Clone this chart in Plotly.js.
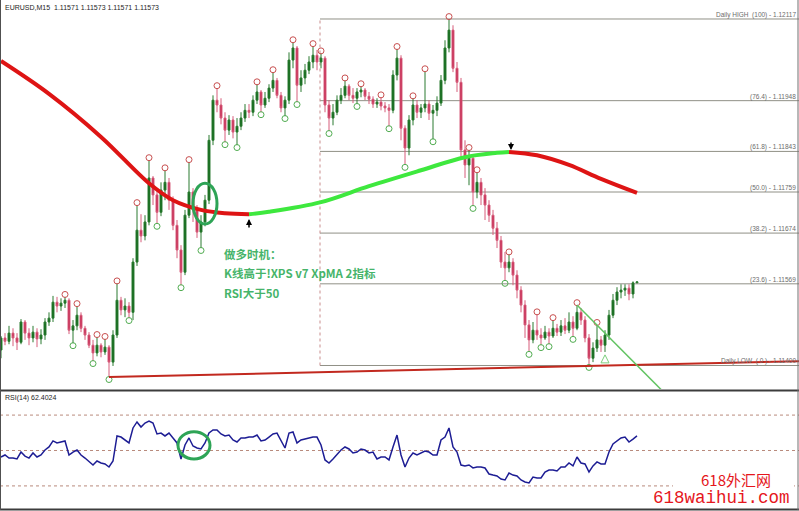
<!DOCTYPE html>
<html><head><meta charset="utf-8">
<script src="https://cdn.plot.ly/plotly-3.0.1.min.js"></script>
<style>html,body{margin:0;padding:0;background:#fff;}#chart{width:799px;height:511px;}</style>
</head><body><div id="chart"></div>
<script>
// ---- data (EURUSD M15) ----
const symbolTitle = 'EURUSD,M15  1.11571 1.11573 1.11571 1.11573';
const rsiTitle = 'RSI(14) 62.4024';
const openP = [1.11432,1.11457,1.11450,1.11467,1.11457,1.11448,1.11490,1.11467,1.11457,1.11469,
1.11455,1.11463,1.11490,1.11498,1.11531,1.11523,1.11529,1.11535,1.11473,1.11482,
1.11504,1.11477,1.11463,1.11442,1.11426,1.11442,1.11428,1.11438,1.11407,1.11463,
1.11535,1.11515,1.11523,1.11510,1.11614,1.11680,1.11668,1.11697,1.11788,1.11753,
1.11717,1.11763,1.11779,1.11742,1.11690,1.11639,1.11593,1.11711,1.11759,1.11722,
1.11676,1.11697,1.11742,1.11866,1.11949,1.11939,1.11912,1.11887,1.11908,1.11883,
1.11895,1.11912,1.11928,1.11924,1.11949,1.11966,1.11939,1.11953,1.11974,1.11990,
1.11959,1.11933,1.11949,1.12032,1.12057,1.11980,1.11995,1.12011,1.12028,1.12042,
1.12028,1.12036,1.11939,1.11912,1.11924,1.11949,1.11959,1.11978,1.11959,1.11953,
1.11966,1.11970,1.11957,1.11951,1.11941,1.11945,1.11937,1.11933,1.11928,1.12001,
1.12036,1.11891,1.11850,1.11908,1.11939,1.11924,1.11933,1.11941,1.11922,1.11928,
1.11943,1.11990,1.12057,1.12094,1.12015,1.11986,1.11846,1.11815,1.11829,1.11759,
1.11779,1.11753,1.11732,1.11711,1.11684,1.11659,1.11614,1.11602,1.11614,1.11587,
1.11556,1.11525,1.11484,1.11453,1.11473,1.11463,1.11457,1.11469,1.11461,1.11477,
1.11469,1.11482,1.11473,1.11490,1.11477,1.11510,1.11494,1.11457,1.11415,1.11436,
1.11453,1.11442,1.11463,1.11504,1.11535,1.11552,1.11556,1.11560,1.11548,1.11571];
const highP = [1.11461,1.11467,1.11482,1.11477,1.11467,1.11496,1.11494,1.11477,1.11482,1.11477,
1.11475,1.11498,1.11510,1.11544,1.11542,1.11539,1.11542,1.11539,1.11494,1.11523,
1.11510,1.11482,1.11469,1.11453,1.11459,1.11446,1.11455,1.11442,1.11473,1.11570,
1.11542,1.11539,1.11531,1.11622,1.11732,1.11713,1.11711,1.11825,1.11792,1.11763,
1.11779,1.11804,1.11788,1.11750,1.11701,1.11649,1.11722,1.11821,1.11767,1.11732,
1.11711,1.11753,1.11877,1.11959,1.11974,1.11953,1.11924,1.11918,1.11916,1.11912,
1.11924,1.11941,1.11941,1.11959,1.11982,1.11970,1.11966,1.11982,1.12007,1.11995,
1.11966,1.11957,1.12048,1.12069,1.12061,1.12011,1.12024,1.12040,1.12061,1.12053,
1.12046,1.12040,1.11949,1.11941,1.11959,1.11974,1.11990,1.11982,1.11974,1.11974,
1.11978,1.11974,1.11966,1.11957,1.11953,1.11955,1.11945,1.11941,1.12011,1.12055,
1.12042,1.11897,1.11918,1.11953,1.11949,1.11941,1.12009,1.11949,1.11939,1.11957,
1.12001,1.12073,1.12117,1.12104,1.12028,1.11995,1.11866,1.11846,1.11835,1.11800,
1.11788,1.11767,1.11742,1.11722,1.11697,1.11668,1.11635,1.11630,1.11622,1.11597,
1.11564,1.11535,1.11494,1.11490,1.11506,1.11477,1.11482,1.11477,1.11494,1.11486,
1.11494,1.11498,1.11510,1.11502,1.11525,1.11519,1.11502,1.11465,1.11448,1.11484,
1.11461,1.11473,1.11515,1.11548,1.11562,1.11568,1.11568,1.11568,1.11574,1.11573];
const lowP = [1.11415,1.11442,1.11444,1.11440,1.11432,1.11444,1.11453,1.11442,1.11448,1.11438,
1.11444,1.11453,1.11482,1.11490,1.11510,1.11513,1.11519,1.11465,1.11446,1.11473,
1.11469,1.11453,1.11436,1.11409,1.11419,1.11417,1.11422,1.11376,1.11399,1.11457,
1.11504,1.11500,1.11498,1.11494,1.11606,1.11655,1.11659,1.11690,1.11732,1.11693,
1.11709,1.11742,1.11722,1.11680,1.11622,1.11566,1.11587,1.11705,1.11697,1.11664,
1.11643,1.11688,1.11734,1.11856,1.11924,1.11899,1.11862,1.11877,1.11870,1.11856,
1.11887,1.11904,1.11912,1.11916,1.11941,1.11924,1.11933,1.11945,1.11966,1.11953,
1.11924,1.11916,1.11941,1.12015,1.11945,1.11966,1.11982,1.12003,1.12015,1.12011,
1.12015,1.11924,1.11885,1.11897,1.11918,1.11941,1.11953,1.11949,1.11943,1.11941,
1.11955,1.11949,1.11941,1.11933,1.11933,1.11928,1.11924,1.11895,1.11922,1.11990,
1.11866,1.11815,1.11835,1.11897,1.11912,1.11912,1.11924,1.11908,1.11868,1.11916,
1.11937,1.11982,1.12048,1.12007,1.11966,1.11829,1.11788,1.11773,1.11730,1.11746,
1.11732,1.11701,1.11697,1.11670,1.11643,1.11602,1.11575,1.11593,1.11566,1.11539,
1.11510,1.11457,1.11428,1.11446,1.11453,1.11442,1.11453,1.11444,1.11457,1.11461,
1.11461,1.11465,1.11467,1.11459,1.11473,1.11484,1.11448,1.11401,1.11407,1.11428,
1.11428,1.11428,1.11453,1.11498,1.11525,1.11539,1.11544,1.11535,1.11539,1.11571];
const closeP = [1.11457,1.11450,1.11467,1.11457,1.11448,1.11490,1.11467,1.11457,1.11469,1.11455,
1.11463,1.11490,1.11498,1.11531,1.11523,1.11529,1.11535,1.11473,1.11482,1.11504,
1.11477,1.11463,1.11442,1.11426,1.11442,1.11428,1.11438,1.11407,1.11463,1.11535,
1.11515,1.11523,1.11510,1.11614,1.11680,1.11668,1.11697,1.11788,1.11753,1.11717,
1.11763,1.11779,1.11742,1.11690,1.11639,1.11593,1.11711,1.11759,1.11722,1.11676,
1.11697,1.11742,1.11866,1.11949,1.11939,1.11912,1.11887,1.11908,1.11883,1.11895,
1.11912,1.11928,1.11924,1.11949,1.11966,1.11939,1.11953,1.11974,1.11990,1.11959,
1.11933,1.11949,1.12032,1.12057,1.11980,1.11995,1.12011,1.12028,1.12042,1.12028,
1.12036,1.11939,1.11912,1.11924,1.11949,1.11959,1.11978,1.11959,1.11953,1.11966,
1.11970,1.11957,1.11951,1.11941,1.11945,1.11937,1.11933,1.11928,1.12001,1.12036,
1.11891,1.11850,1.11908,1.11939,1.11924,1.11933,1.11941,1.11922,1.11928,1.11943,
1.11990,1.12057,1.12094,1.12015,1.11986,1.11846,1.11815,1.11829,1.11759,1.11779,
1.11753,1.11732,1.11711,1.11684,1.11659,1.11614,1.11602,1.11614,1.11587,1.11556,
1.11525,1.11484,1.11453,1.11473,1.11463,1.11457,1.11469,1.11461,1.11477,1.11469,
1.11482,1.11473,1.11490,1.11477,1.11510,1.11494,1.11457,1.11415,1.11436,1.11453,
1.11442,1.11463,1.11504,1.11535,1.11552,1.11556,1.11560,1.11548,1.11571,1.11573];
const rsiVals = [44.5,46.2,43.6,43.6,42.8,48.7,45.3,43.6,47.9,44.5,
46.2,50.4,53.0,58.1,56.4,57.2,58.1,46.2,48.7,50.4,
46.2,43.6,40.3,37.7,41.1,39.4,38.6,36.0,41.1,62.3,
61.4,58.9,56.4,69.1,74.2,69.9,73.3,75.0,73.3,64.0,
64.8,62.3,64.8,60.6,56.4,42.8,54.7,60.6,53.8,52.1,
51.3,56.4,64.8,67.4,67.4,64.0,62.3,63.1,58.9,57.2,
60.6,60.6,61.4,61.4,63.1,58.1,58.9,61.4,64.0,64.8,
58.1,52.1,64.8,65.7,56.4,58.9,59.7,60.6,61.4,61.4,
54.7,42.0,39.4,42.8,47.0,50.4,53.0,51.3,47.9,48.7,
51.3,50.4,47.9,48.7,42.8,44.5,44.5,42.0,53.0,63.1,
46.2,36.0,43.6,47.9,46.2,47.9,49.6,48.7,46.2,46.2,
58.9,61.4,69.1,53.0,48.7,37.7,36.9,37.7,35.2,36.0,
36.0,35.2,30.1,29.2,28.4,25.8,25.0,30.9,29.2,28.4,
25.0,23.3,22.5,27.5,26.7,26.7,31.8,33.5,33.5,32.6,
36.0,36.0,39.4,36.9,44.5,39.4,38.6,31.8,36.9,40.3,
38.6,38.6,48.7,55.5,58.1,60.6,61.4,57.2,59.7,62.4];
const rsiLevels = [80, 50, 20];
// XPMA moving average (bar index, value) and its colour turning points
const maBar = [0,12,25,37,43,50,56,62,67,80,92,105,116,124,127,134,142,150,159];
const maVal = [1.12030,1.11962,1.11873,1.11777,1.11742,1.11722,1.11715,1.11713,1.11718,1.11738,1.11771,1.11804,1.11831,1.11840,1.11842,1.11835,1.11815,1.11786,1.11757];
const maUpTurnBar = 62, maDownTurnBar = 127;
// fractals
const fractalHighBars = [16,19,24,26,29,34,37,41,47,54,64,68,73,78,80,86,90,95,99,103,106,112,117,119,127,134,138,144,149];
const fractalLowBars = [18,23,27,32,39,45,50,56,59,65,71,74,82,89,97,101,108,118,126,132,135,137,143,147];
const upSignalBar = 151;
// daily Fibonacci
const fibLevels = ['Daily HIGH  (100)','(76.4)','(61.8)','(50.0)','(38.2)','(23.6)','Daily LOW  ( 0 )'];
const fibPrices = [1.12117,1.11948,1.11843,1.11759,1.11674,1.11569,1.11400];
const fibStartBar = 79.75;
// trend lines
const supportLine = {bar0: 27, p0: 1.11376, bar1: 199.5, p1: 1.11409};
const downLine = {bar0: 144, p0: 1.11525, bar1: 166.25, p1: 1.11340};
const noteLines = ['<b>做多时机：</b>', '<b>K线高于!XPS v7 XpMA 2指标</b>', '<b>RSI大于50</b>'];

// ---- chart ----
const W = 799, H = 511;
const bars = openP.map((_, i) => i);
const px = v => v / W, py = v => 1 - v / H;
const traces = [];
traces.push({
  type: 'candlestick', x: bars, open: openP, high: highP, low: lowP, close: closeP,
  xaxis: 'x', yaxis: 'y', whiskerwidth: 0, hoverinfo: 'skip',
  increasing: {line: {color: '#2a7a30', width: 1}, fillcolor: '#0f6618'},
  decreasing: {line: {color: '#d65c7a', width: 1}, fillcolor: '#c2224c'}
});
function maSeg(a, b, color) {
  const xs = [], ys = [];
  maBar.forEach((bi, k) => { if (bi >= a && bi <= b) { xs.push(bi); ys.push(maVal[k]); } });
  return {type: 'scatter', mode: 'lines', x: xs, y: ys, xaxis: 'x', yaxis: 'y', hoverinfo: 'skip',
    line: {color: color, width: 4, shape: 'spline', smoothing: 1}};
}
traces.push(maSeg(0, maUpTurnBar, '#de1414'));
traces.push(maSeg(maUpTurnBar, maDownTurnBar, '#3ee83e'));
traces.push(maSeg(maDownTurnBar, 200, '#de1414'));
const off = 0.00005;
traces.push({type: 'scatter', mode: 'markers', x: fractalHighBars, y: fractalHighBars.map(b => highP[b] + off),
  xaxis: 'x', yaxis: 'y', hoverinfo: 'skip',
  marker: {symbol: 'circle-open', size: 6, color: '#c85050', line: {width: 1}}});
traces.push({type: 'scatter', mode: 'markers', x: fractalLowBars, y: fractalLowBars.map(b => lowP[b] - off),
  xaxis: 'x', yaxis: 'y', hoverinfo: 'skip',
  marker: {symbol: 'circle-open', size: 6, color: '#52ad52', line: {width: 1}}});
traces.push({type: 'scatter', mode: 'markers', x: [upSignalBar], y: [lowP[upSignalBar] - 0.00006],
  xaxis: 'x', yaxis: 'y', hoverinfo: 'skip',
  marker: {symbol: 'arrow-up-open', size: 8, color: '#7ccf7c', line: {width: 1}}});
traces.push({type: 'scatter', mode: 'lines', x: bars, y: rsiVals, xaxis: 'x', yaxis: 'y2', hoverinfo: 'skip',
  line: {color: '#1d1d94', width: 1.5}});

const shapes = [];
fibPrices.forEach(p => shapes.push({type: 'line', xref: 'x', yref: 'y', x0: fibStartBar, x1: 199.5, y0: p, y1: p,
  line: {color: '#909086', width: 1}, layer: 'below'}));
shapes.push({type: 'line', xref: 'x', yref: 'y', x0: fibStartBar, x1: fibStartBar, y0: fibPrices[6], y1: fibPrices[0],
  line: {color: '#c98d8d', width: 1, dash: 'dot'}, layer: 'below'});
rsiLevels.forEach(l => shapes.push({type: 'line', xref: 'paper', yref: 'y2', x0: 0, x1: 1, y0: l, y1: l,
  line: {color: '#b98a7c', width: 1, dash: 'dot'}, layer: 'below'}));
shapes.push({type: 'line', xref: 'x', yref: 'y', x0: supportLine.bar0, y0: supportLine.p0, x1: supportLine.bar1, y1: supportLine.p1,
  line: {color: '#c2291f', width: 2}});
shapes.push({type: 'line', xref: 'x', yref: 'y', x0: downLine.bar0, y0: downLine.p0, x1: downLine.bar1, y1: downLine.p1,
  line: {color: '#62c462', width: 1.5}});
shapes.push({type: 'circle', xref: 'x', yref: 'y', x0: 48, x1: 54, y0: 1.11693, y1: 1.11777,
  line: {color: '#2ea456', width: 3}});
shapes.push({type: 'circle', xref: 'x', yref: 'y2', x0: 44.25, x1: 52.25, y0: 42.8, y1: 65.9,
  line: {color: '#2ea456', width: 3}});
// frame
shapes.push({type: 'line', xref: 'paper', yref: 'paper', x0: 0, x1: 1, y0: py(390.5), y1: py(390.5), line: {color: '#3c3c3c', width: 2}});
shapes.push({type: 'line', xref: 'paper', yref: 'paper', x0: 0, x1: 1, y0: py(509.5), y1: py(509.5), line: {color: '#3c3c3c', width: 2}});
shapes.push({type: 'line', xref: 'paper', yref: 'paper', x0: px(0.5), x1: px(0.5), y0: py(510), y1: 1, line: {color: '#505050', width: 1}});
shapes.push({type: 'line', xref: 'paper', yref: 'paper', x0: px(798), x1: px(798), y0: py(510), y1: 1, line: {color: '#707070', width: 1}});
// watermark backing
shapes.push({type: 'rect', xref: 'paper', yref: 'paper', x0: px(673), x1: px(794), y0: py(488), y1: py(471),
  fillcolor: '#ffffff', line: {width: 0}, layer: 'above'});

const annotations = [];
annotations.push({xref: 'paper', yref: 'paper', x: px(3), y: py(7), xanchor: 'left', yanchor: 'middle', showarrow: false,
  text: symbolTitle, font: {family: 'Liberation Sans, Arial, sans-serif', size: 7, color: '#1e1e1e'}});
annotations.push({xref: 'paper', yref: 'paper', x: px(3), y: py(398), xanchor: 'left', yanchor: 'middle', showarrow: false,
  text: rsiTitle, font: {family: 'Liberation Sans, Arial, sans-serif', size: 7, color: '#1e1e1e'}});
fibLevels.forEach((lab, k) => annotations.push({xref: 'paper', yref: 'y', x: px(796.5), y: fibPrices[k],
  xanchor: 'right', yanchor: 'bottom', yshift: -1, showarrow: false, borderpad: 0,
  text: lab + ' - ' + fibPrices[k].toFixed(5), font: {family: 'Liberation Sans, Arial, sans-serif', size: 6.5, color: '#6c6c6c'}}));
const noteY = [254, 273, 292.5];
noteLines.forEach((t, k) => annotations.push({xref: 'paper', yref: 'paper', x: px(222), y: py(noteY[k]),
  xanchor: 'left', yanchor: 'middle', showarrow: false, text: t,
  font: {family: 'Noto Sans CJK SC, sans-serif', size: 11.5, color: '#46b46a'}}));
annotations.push({xref: 'x', yref: 'y', x: maUpTurnBar, y: maVal[maBar.indexOf(maUpTurnBar)] - 0.0001, ax: 0, ay: 10,
  showarrow: true, text: '', arrowhead: 2, arrowsize: 0.8, arrowwidth: 1.5, arrowcolor: '#000000'});
annotations.push({xref: 'x', yref: 'y', x: maDownTurnBar + 0.5, y: maVal[maBar.indexOf(maDownTurnBar)] + 0.00004, ax: 0, ay: -9,
  showarrow: true, text: '', arrowhead: 2, arrowsize: 0.8, arrowwidth: 1.5, arrowcolor: '#000000'});
annotations.push({xref: 'paper', yref: 'paper', x: px(735.5), y: py(479.5), xanchor: 'center', yanchor: 'middle', showarrow: false,
  borderpad: 0, text: '618外汇网', font: {family: 'Noto Sans CJK SC, sans-serif', size: 15, color: '#e5161c'}});
annotations.push({xref: 'paper', yref: 'paper', x: px(721.5), y: py(497.5), xanchor: 'center', yanchor: 'middle', showarrow: false,
  borderpad: 0, text: '618waihui.com', font: {family: 'Liberation Mono, monospace', size: 17.5, color: '#e5161c'}});

const layout = {
  width: W, height: H, margin: {l: 0, r: 0, t: 0, b: 0, pad: 0},
  paper_bgcolor: '#ffffff', plot_bgcolor: '#ffffff', showlegend: false, boxgap: 0.3,
  xaxis: {range: [-0.25, 199.5], visible: false, rangeslider: {visible: false}, fixedrange: true},
  yaxis: {domain: [0.2387, 1], range: [1.113513, 1.121563], visible: false},
  yaxis2: {domain: [0.0029, 0.2339], range: [0, 100], visible: false, anchor: 'x'},
  shapes: shapes, annotations: annotations
};
Plotly.newPlot('chart', traces, layout, {staticPlot: true, displayModeBar: false});
</script>
</body></html>
